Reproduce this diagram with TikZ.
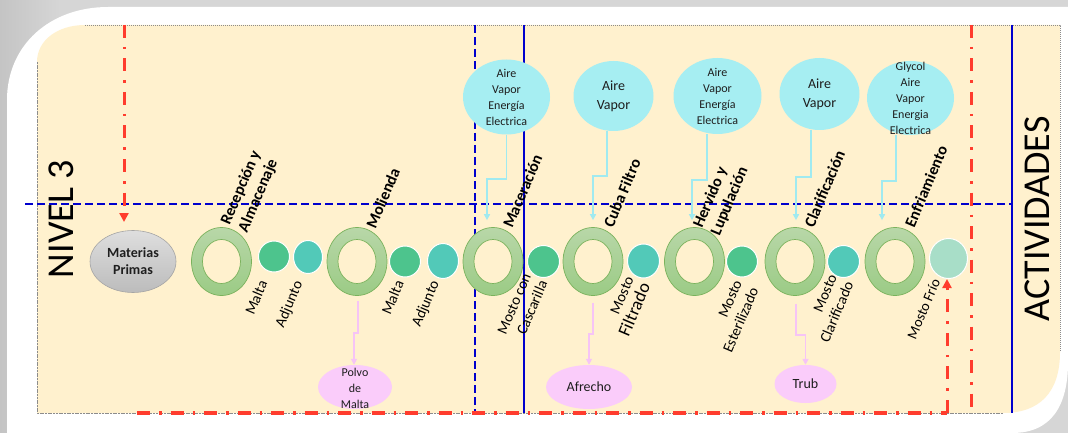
\documentclass[tikz,border=0pt]{standalone}
\usepackage{fontspec}
\setmainfont{Carlito}
\usetikzlibrary{arrows.meta,shapes.geometric}

\definecolor{panel}{RGB}{255,241,206}
\definecolor{bgshade}{RGB}{214,214,214}
\definecolor{bgdark}{RGB}{196,196,196}
\definecolor{edgegray}{RGB}{140,140,140}
\definecolor{laneblue}{RGB}{0,0,205}
\definecolor{flowred}{RGB}{255,60,45}
\definecolor{ringtop}{RGB}{184,215,168}
\definecolor{ringbot}{RGB}{155,203,133}
\definecolor{ringedge}{RGB}{122,178,92}
\definecolor{malt}{RGB}{77,196,141}
\definecolor{adj}{RGB}{82,201,184}
\definecolor{cold}{RGB}{168,222,200}
\definecolor{utility}{RGB}{166,238,242}
\definecolor{utilityline}{RGB}{160,234,240}
\definecolor{waste}{RGB}{250,204,250}
\definecolor{wasteline}{RGB}{246,196,246}
\definecolor{greytop}{RGB}{222,222,222}
\definecolor{greybot}{RGB}{188,188,188}
\definecolor{greyedge}{RGB}{165,165,165}
\definecolor{ink}{RGB}{30,30,30}

\begin{document}
\begin{tikzpicture}[x=1pt,y=-1pt,
  ring/.style={ellipse, inner sep=0, minimum width=60pt, minimum height=68pt,
    draw=ringedge, line width=0.7pt, top color=ringtop, bottom color=ringbot,
    path picture={\filldraw[fill=panel, draw=ringedge, line width=0.7pt]
      (path picture bounding box.center) ellipse [x radius=19, y radius=22];}},
  ball/.style={ellipse, inner sep=0, draw=white, line width=1pt},
  util/.style={ellipse, inner sep=0, fill=utility},
  wasteell/.style={ellipse, inner sep=0, fill=waste},
  inktext/.style={text=ink, align=center, inner sep=0},
  steplbl/.style={rotate=67, inner sep=0, align=left, text=black,
    font=\bfseries\fontsize{16}{19}\selectfont},
  flowlbl/.style={rotate=67, inner sep=0, align=right, text=black,
    font=\fontsize{15}{18}\selectfont},
  lanetitle/.style={rotate=90, inner sep=0, text=black,
    font=\fontsize{38}{40}\selectfont},
  utilarr/.style={draw=utilityline, line width=1.6pt, -{Triangle[width=6pt,length=6pt]}},
  wastearr/.style={draw=wasteline, line width=1.6pt, -{Triangle[width=6pt,length=6pt]}},
  lanedash/.style={draw=laneblue, line width=2pt, dash pattern=on 8pt off 4pt},
  laneline/.style={draw=laneblue, line width=2.6pt},
  reddash/.style={draw=flowred, line width=3pt, dash pattern=on 13pt off 9pt on 2.5pt off 9pt},
  redtip/.style={-{Triangle[width=9pt,length=9pt]}}
]
\useasboundingbox (0,0) rectangle (1068,433);

% frame and background
\fill[bgshade] (0,0) rectangle (1068,433);
\shade[left color=bgdark, right color=bgshade] (0,0) rectangle (60,433);
\fill[white] (7,433) -- (7,100) .. controls (7,45) and (50,7) .. (108,7)
  -- (1068,7) -- (1068,362) .. controls (1068,405) and (1052,433) .. (1012,433) -- cycle;

% lane panel
\fill[panel] (37,413) -- (37,62) .. controls (37,40) and (58,25) .. (85,25)
  -- (1060,25) -- (1060,352) .. controls (1060,392) and (1040,413) .. (1003,413) -- cycle;
\draw[edgegray, line width=0.6pt, dash pattern=on 1pt off 1pt] (85,25) -- (1060,25) -- (1060,352);
\draw[edgegray, line width=0.8pt, dash pattern=on 2pt off 0.7pt] (37,62) -- (37,413) -- (1003,413);

% lane separators
\coordinate (hA) at (25,204);
\coordinate (hB) at (1012,204);
\coordinate (vA1) at (475,25);
\coordinate (vA2) at (475,413);
\coordinate (vB1) at (524,25);
\coordinate (vB2) at (524,413);
\coordinate (vC1) at (1012,25);
\coordinate (vC2) at (1012,413);
\draw[lanedash] (hA) -- (hB);
\draw[lanedash] (vA1) -- (vA2);
\draw[laneline] (vB1) -- (vB2);
\draw[laneline] (vC1) -- (vC2);

% lane titles
\node[lanetitle] (nivel) at (61,219) {NIVEL 3};
\node[lanetitle] (activ) at (1037.5,219) {ACTIVIDADES};

% raw material
\node[ellipse, inner sep=0, minimum width=86pt, minimum height=62pt,
  top color=greytop, bottom color=greybot, draw=greyedge, line width=0.6pt] (mp) at (133,261.5) {};
\node[inktext, font=\bfseries\fontsize{14}{17}\selectfont] (mpt) at (mp.center) {Materias\\Primas};

% process stages
\node[ring] (r1) at (221.5,261.5) {};
\node[ring] (r2) at (357,261.5) {};
\node[ring] (r3) at (493,261.5) {};
\node[ring] (r4) at (593,261.5) {};
\node[ring] (r5) at (694.5,261.5) {};
\node[ring] (r6) at (795,261.5) {};
\node[ring] (r7) at (895,261.5) {};

% intermediate streams
\node[ball, fill=malt, minimum width=31pt, minimum height=31pt] (c1) at (274,256.5) {};
\node[ball, fill=adj,  minimum width=29pt, minimum height=33pt] (c2) at (308,257) {};
\node[ball, fill=malt, minimum width=31pt, minimum height=31pt] (c3) at (405,261.5) {};
\node[ball, fill=adj,  minimum width=31pt, minimum height=35pt] (c4) at (443,261) {};
\node[ball, fill=malt, minimum width=32pt, minimum height=32pt] (c5) at (543.5,261.5) {};
\node[ball, fill=adj,  minimum width=32pt, minimum height=34pt] (c6) at (643.5,261) {};
\node[ball, fill=malt, minimum width=31pt, minimum height=31pt] (c7) at (742,261.5) {};
\node[ball, fill=adj,  minimum width=32pt, minimum height=32pt] (c8) at (843.5,261.5) {};
\node[ball, fill=cold, minimum width=38pt, minimum height=40pt] (c9) at (948.5,258.5) {};

% utilities
\node[util, minimum width=87pt, minimum height=75pt] (e1) at (506.5,97) {};
\node[inktext, font=\fontsize{12}{16}\selectfont] (e1t) at (e1.center) {Aire\\Vapor\\Energía\\Electrica};
\node[util, minimum width=80pt, minimum height=70pt] (e2) at (613.5,96) {};
\node[inktext, font=\fontsize{14}{19}\selectfont] (e2t) at (e2.center) {Aire\\Vapor};
\node[util, minimum width=88pt, minimum height=76pt] (e3) at (717.5,96) {};
\node[inktext, font=\fontsize{12}{16}\selectfont] (e3t) at (e3.center) {Aire\\Vapor\\Energía\\Electrica};
\node[util, minimum width=80pt, minimum height=72pt] (e4) at (819.5,94) {};
\node[inktext, font=\fontsize{14}{19}\selectfont] (e4t) at (e4.center) {Aire\\Vapor};
\node[util, minimum width=87pt, minimum height=74pt] (e5) at (910.5,98) {};
\node[inktext, font=\fontsize{12}{16}\selectfont] (e5t) at (e5.center) {Glycol\\Aire\\Vapor\\Energia\\Electrica};

% by-products
\node[wasteell, minimum width=74pt, minimum height=44pt] (p1) at (355,387) {};
\node[inktext, font=\fontsize{12}{16}\selectfont] (p1t) at ([yshift=-1.5pt]p1.center) {Polvo\\de\\Malta};
\node[wasteell, minimum width=86pt, minimum height=44pt] (p2) at (589,387) {};
\node[inktext, font=\fontsize{14}{17}\selectfont] (p2t) at (p2.center) {Afrecho};
\node[wasteell, minimum width=62pt, minimum height=38pt] (p3) at (805.5,384) {};
\node[inktext, font=\fontsize{14}{17}\selectfont] (p3t) at (p3.center) {Trub};

% stage names
\node[steplbl] (l1) at (250,191.5) {Recepción y\\Almacenaje};
\node[steplbl] (l2) at (383,198) {Molienda};
\node[steplbl] (l3) at (522.5,191) {Maceración};
\node[steplbl] (l4) at (622,193) {Cuba Filtro};
\node[steplbl] (l5) at (721,197.5) {Hervido y\\Lupulación};
\node[steplbl] (l6) at (824.5,189) {Clarificación};
\node[steplbl] (l7) at (926,186.5) {Enfriamiento};

% stream names
\node[flowlbl] (f1) at (256,297.5) {Malta};
\node[flowlbl] (f2) at (289.5,304.5) {Adjunto};
\node[flowlbl] (f3) at (392.5,297.5) {Malta};
\node[flowlbl] (f4) at (426,304) {Adjunto};
\node[flowlbl] (f5) at (522.5,307.5) {Mosto con\\Cascarilla};
\node[flowlbl] (f6) at (627,306.5) {Mosto\\{\fontsize{18}{20}\selectfont Filtrado}};
\node[flowlbl] (f7) at (732.5,316.5) {Mosto\\Esterilizado};
\node[flowlbl] (f8) at (828.5,308.5) {Mosto\\Clarificado};
\node[flowlbl, font=\fontsize{14.5}{18}\selectfont] (f9) at (923.5,309) {Mosto Frío};

% utility feeds
\draw[utilarr] (e1.south) -- ++(0,44) -| ([xshift=-6pt,yshift=7pt]r3.north);
\draw[utilarr] ([xshift=-6.5pt]e2.south) -- ++(0,45) -| ([yshift=7pt]r4.north);
\draw[utilarr] ([xshift=-10.5pt]e3.south) -- ++(0,46) -| ([xshift=-2.5pt,yshift=7pt]r5.north);
\draw[utilarr] ([xshift=-8.5pt]e4.south) -- ++(0,47) -| ([xshift=1pt,yshift=7pt]r6.north);
\draw[utilarr] ([xshift=-14.5pt]e5.south) -- ++(0,46) -| ([xshift=-13pt,yshift=7pt]r7.north);

% by-product outlets
\draw[wastearr] ([xshift=1pt,yshift=-5pt]r2.south) -- ++(0,32) -| ([xshift=-1pt]p1.north);
\draw[wastearr] ([yshift=-7pt]r4.south) -- ++(0,31) -| (p2.north);
\draw[wastearr] ([xshift=1pt,yshift=-8pt]r6.south) -- ++(0,31) -| (p3.north);

% material flow boundary
\coordinate (rA1) at (124,25);
\coordinate (rA2) at (124,222);
\coordinate (rB1) at (137,412.5);
\coordinate (rB2) at (947,412.5);
\coordinate (rC1) at (971,25);
\coordinate (rC2) at (971,407);
\draw[reddash, redtip] (rA1) -- (rA2);
\draw[reddash, line width=4pt] (rB1) -- (rB2);
\draw[reddash, redtip] (rB2) -- (rB2 |- c9.south);
\draw[reddash] (rC1) -- (rC2);
\end{tikzpicture}
\end{document}
